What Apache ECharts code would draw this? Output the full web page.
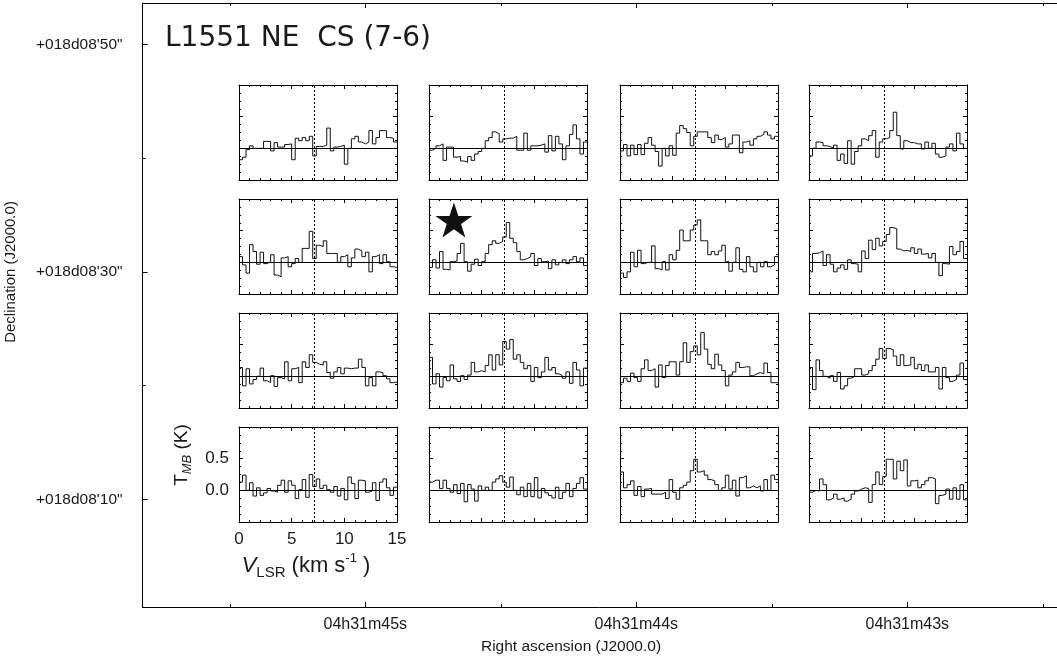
<!DOCTYPE html>
<html>
<head>
<meta charset="utf-8">
<script src="https://cdn.jsdelivr.net/npm/echarts@6/dist/echarts.min.js"></script>
<style>
  html, body { margin: 0; padding: 0; background: #fff; }
  #chart { width: 1057px; height: 660px; }
</style>
</head>
<body>
<div id="chart"></div>
<script>
// ---- data -------------------------------------------------------------
// CS (7-6) spectra: channel width (km/s), first channel edge, systemic velocity
const channelWidth = 0.3333;
const velocityStart = 0;
const systemicVelocity = 7.15;

// map frame ticks (RA seconds of 04h31m, Dec arcsec of +18d08')
const raTicks = [45, 44, 43];
const raTickLabels = ['04h31m45s', '04h31m44s', '04h31m43s'];
const raMinorTicks = [45.5, 44.5, 43.5, 42.5];
const decTicks = [50, 30, 10];
const decTickLabels = ['+018d08\'50"', '+018d08\'30"', '+018d08\'10"'];
const decMinorTicks = [40, 20];
const temperatureTicks = [0, 0.5];

// protostar position (RA s, Dec arcsec)
const starPosition = [44.673, 34.55];

// spectra, T_MB in K; rows north to south, columns east to west
const specR1C1 = [-0.18, -0.14, -0.02, 0.04, 0.00, 0.00, 0.00, 0.11, 0.11, -0.04, 0.09, 0.02, 0.02, 0.06, 0.07, -0.18, 0.16, 0.12, 0.17, 0.12, 0.19, -0.12, 0.03, 0.03, 0.05, 0.32, -0.04, 0.02, 0.03, 0.05, -0.25, 0.00, 0.15, 0.19, 0.10, 0.07, 0.10, 0.28, 0.07, 0.17, 0.28, 0.28, 0.17, 0.16, 0.10];
const specR1C2 = [-0.03, 0.00, 0.04, 0.07, -0.19, 0.02, 0.02, -0.14, -0.13, -0.20, -0.22, -0.13, -0.19, -0.09, -0.05, 0.00, 0.12, 0.17, 0.26, 0.23, 0.10, 0.15, 0.16, 0.16, 0.19, -0.03, -0.03, 0.24, -0.03, 0.04, 0.04, 0.05, 0.07, -0.06, 0.20, -0.04, 0.19, 0.07, -0.18, 0.04, 0.22, 0.37, 0.15, -0.09, 0.10];
const specR1C3 = [-0.04, 0.06, -0.12, 0.05, -0.10, 0.06, -0.10, 0.08, 0.17, 0.05, -0.05, -0.28, 0.00, -0.12, 0.04, -0.11, 0.24, 0.36, 0.31, 0.25, 0.04, 0.19, 0.26, 0.26, 0.26, 0.17, 0.09, 0.21, 0.14, 0.17, 0.02, 0.07, 0.21, 0.21, -0.07, 0.10, 0.12, 0.05, 0.15, 0.19, 0.22, 0.26, 0.21, 0.15, 0.19];
const specR1C4 = [-0.12, 0.00, 0.10, 0.09, 0.04, 0.03, 0.00, 0.05, -0.19, -0.09, -0.24, 0.12, -0.25, -0.05, 0.04, 0.15, 0.12, 0.20, 0.28, -0.14, 0.10, 0.15, 0.17, 0.28, 0.57, 0.20, -0.01, 0.12, 0.09, 0.09, 0.07, 0.07, -0.01, 0.10, 0.00, 0.08, -0.09, -0.14, -0.12, 0.02, 0.07, -0.04, 0.24, 0.07, 0.00];

const specR2C1 = [0.09, -0.04, -0.17, 0.28, 0.17, -0.03, 0.16, -0.02, 0.01, 0.12, -0.20, -0.23, 0.07, 0.09, -0.07, -0.02, 0.06, 0.00, 0.22, 0.22, 0.49, 0.06, 0.27, 0.25, 0.34, 0.14, 0.14, 0.14, 0.00, 0.09, 0.12, -0.07, 0.07, 0.21, 0.18, 0.09, 0.16, -0.15, 0.09, 0.12, -0.02, 0.12, 0.01, -0.07, -0.08];
const specR2C2 = [-0.08, 0.04, -0.09, 0.17, -0.11, -0.12, 0.01, 0.02, 0.14, 0.30, 0.01, -0.14, -0.03, 0.05, -0.05, 0.01, 0.14, 0.28, 0.34, 0.30, 0.33, 0.40, 0.63, 0.38, 0.31, 0.17, 0.04, 0.06, 0.09, 0.14, -0.05, 0.06, 0.01, 0.02, -0.10, 0.04, -0.04, 0.00, 0.04, -0.02, 0.04, 0.09, 0.01, 0.07, -0.05];
const specR2C3 = [-0.17, -0.24, -0.15, 0.16, -0.07, 0.19, -0.02, 0.00, 0.00, 0.26, -0.10, -0.12, 0.01, -0.12, 0.12, 0.04, 0.19, 0.51, 0.34, 0.34, 0.51, 0.59, 0.67, 0.34, 0.34, 0.12, 0.17, 0.12, 0.18, 0.27, 0.01, -0.14, 0.00, 0.23, -0.11, -0.15, 0.09, -0.07, -0.15, 0.00, -0.07, 0.01, -0.07, -0.04, 0.09];
const specR2C4 = [-0.15, 0.14, 0.15, 0.18, -0.05, 0.12, -0.03, -0.15, -0.09, -0.04, -0.11, 0.04, -0.02, -0.03, -0.15, 0.18, 0.06, 0.35, 0.20, 0.38, 0.26, 0.33, 0.44, 0.55, 0.53, 0.21, 0.18, 0.19, 0.17, 0.23, 0.14, 0.21, 0.13, 0.14, 0.07, 0.14, 0.00, -0.21, -0.02, -0.03, 0.25, 0.12, 0.17, 0.33, 0.06];

const specR3C1 = [0.14, -0.15, 0.12, -0.12, -0.05, 0.00, 0.13, -0.07, -0.10, 0.01, -0.16, -0.02, -0.04, 0.23, -0.07, 0.12, 0.14, -0.10, 0.23, 0.14, 0.34, 0.22, 0.19, 0.18, 0.23, 0.06, -0.03, 0.07, 0.14, 0.04, 0.13, 0.12, 0.13, 0.13, 0.27, 0.14, -0.15, -0.02, -0.15, 0.07, 0.06, 0.01, -0.04, -0.10, -0.09];
const specR3C2 = [0.30, -0.12, 0.04, -0.17, -0.02, -0.07, 0.18, -0.04, -0.08, 0.01, -0.05, 0.02, 0.22, 0.07, 0.09, 0.07, 0.17, 0.34, 0.10, 0.34, 0.18, 0.55, 0.43, 0.58, 0.27, 0.34, 0.22, 0.12, 0.17, -0.08, 0.14, -0.02, 0.07, 0.30, 0.10, 0.14, 0.04, 0.01, -0.03, 0.07, -0.11, 0.22, 0.10, -0.15, 0.13];
const specR3C3 = [-0.10, -0.03, -0.08, 0.05, -0.02, -0.08, 0.12, 0.26, 0.09, 0.12, -0.17, 0.18, -0.02, 0.17, 0.23, 0.23, 0.02, 0.23, 0.53, 0.22, 0.39, 0.48, 0.34, 0.69, 0.43, 0.19, 0.12, 0.35, 0.18, 0.09, -0.15, 0.02, 0.07, 0.22, 0.14, 0.15, 0.15, 0.01, 0.04, 0.06, 0.04, 0.21, 0.06, -0.10, -0.10];
const specR3C4 = [0.14, -0.21, 0.26, 0.09, 0.00, -0.03, 0.01, -0.08, 0.06, -0.20, -0.15, -0.03, 0.00, 0.12, 0.12, 0.02, 0.04, 0.09, 0.17, 0.27, 0.44, 0.28, 0.44, 0.42, 0.32, 0.17, 0.34, 0.17, 0.18, 0.30, 0.12, 0.19, 0.09, 0.18, 0.07, 0.07, 0.14, -0.20, 0.14, -0.02, -0.08, -0.05, 0.02, 0.21, -0.05];

const specR4C1 = [0.13, 0.24, 0.00, 0.12, -0.09, 0.04, -0.08, -0.04, 0.03, -0.01, -0.03, 0.08, 0.16, -0.03, 0.15, 0.08, -0.13, 0.01, 0.17, -0.11, 0.25, 0.06, 0.18, 0.03, 0.08, 0.01, -0.03, 0.06, -0.09, 0.03, -0.15, 0.21, 0.11, -0.13, 0.16, 0.15, -0.03, -0.01, 0.12, -0.16, 0.13, 0.18, 0.04, -0.08, 0.05];
const specR4C2 = [0.13, 0.16, 0.16, 0.03, 0.16, 0.03, -0.03, 0.09, -0.05, 0.11, -0.18, 0.09, 0.02, -0.17, 0.07, 0.00, 0.05, 0.00, 0.13, 0.18, 0.23, 0.13, 0.05, 0.21, 0.00, -0.07, 0.05, -0.10, 0.11, -0.10, 0.20, -0.12, 0.03, -0.04, -0.08, -0.12, 0.05, -0.13, -0.03, 0.11, -0.10, 0.03, 0.11, 0.20, 0.02];
const specR4C3 = [0.29, 0.04, 0.09, 0.15, -0.08, 0.06, -0.10, 0.02, 0.03, -0.06, -0.06, -0.06, -0.03, -0.13, 0.17, -0.03, -0.14, 0.04, 0.08, 0.13, 0.31, 0.49, 0.29, 0.31, 0.24, 0.17, 0.15, 0.09, 0.00, 0.04, 0.24, 0.02, 0.16, -0.09, 0.20, 0.23, 0.04, 0.07, 0.04, 0.07, -0.01, 0.17, 0.00, 0.24, 0.17];
const specR4C4 = [-0.03, 0.00, -0.01, 0.18, 0.09, -0.15, -0.12, -0.06, -0.14, -0.12, -0.17, -0.14, -0.06, -0.01, 0.02, 0.04, 0.03, -0.19, 0.09, 0.29, 0.09, 0.22, 0.49, 0.49, 0.18, 0.46, 0.31, 0.48, 0.07, 0.15, 0.16, 0.04, 0.09, 0.15, 0.20, 0.18, -0.21, -0.08, -0.06, 0.02, -0.14, 0.04, -0.14, 0.09, -0.15];

const spectra = [
  [specR1C1, specR1C2, specR1C3, specR1C4],
  [specR2C1, specR2C2, specR2C3, specR2C4],
  [specR3C1, specR3C2, specR3C3, specR3C4],
  [specR4C1, specR4C2, specR4C3, specR4C4]
];

// ---- layout -----------------------------------------------------------
const frame = { left: 142.5, top: 3, right: 0, bottom: 53 };
const raExtent = [42.4476, 45.8221];
const decExtent = [0.53, 53.63];
const panelLefts = [239, 429, 620, 809];
const panelTops = [85, 199, 313, 427];
const panelWidth = 158;
const panelHeight = 95;

const ink = '#000';
const textColor = '#1a1a1a';
const sans = 'Liberation Sans, Arial, sans-serif';

const chart = echarts.init(document.getElementById('chart'), null, { renderer: 'canvas' });

const grids = [{
  left: frame.left, top: frame.top, right: frame.right, bottom: frame.bottom,
  containLabel: false, outerBoundsMode: 'none'
}];
const xAxes = [];
const yAxes = [];
const series = [];

const lineOf = (show) => ({ show: show, onZero: false, lineStyle: { color: ink, width: 1 } });

// map frame: RA along the bottom/top, Dec along the left
function raAxis(position, ticks, len, withLabels, withLine) {
  return {
    gridIndex: 0, type: 'value', inverse: true, position: position,
    min: raExtent[0], max: raExtent[1],
    axisLine: lineOf(withLine),
    splitLine: { show: false },
    axisTick: { show: true, inside: true, length: len, customValues: ticks, lineStyle: { color: ink, width: 1 } },
    axisLabel: withLabels ? {
      show: true, customValues: raTicks, margin: 10,
      formatter: (v) => raTickLabels[raTicks.indexOf(v)],
      fontSize: 16, fontFamily: sans, color: textColor
    } : { show: false }
  };
}
xAxes.push(raAxis('bottom', raTicks, 5, true, true));
xAxes.push(raAxis('bottom', raMinorTicks, 3, false, false));
xAxes.push(raAxis('top', raTicks, 5, false, true));
xAxes.push(raAxis('top', raMinorTicks, 3, false, false));

function decAxis(ticks, len, withLabels, withLine) {
  return {
    gridIndex: 0, type: 'value', position: 'left',
    min: decExtent[0], max: decExtent[1],
    axisLine: lineOf(withLine),
    splitLine: { show: false },
    axisTick: { show: true, inside: true, length: len, customValues: ticks, lineStyle: { color: ink, width: 1 } },
    axisLabel: withLabels ? {
      show: true, customValues: decTicks, margin: 20,
      formatter: (v) => decTickLabels[decTicks.indexOf(v)],
      fontSize: 15.5, fontFamily: sans, color: textColor
    } : { show: false }
  };
}
yAxes.push(decAxis(decTicks, 5, true, true));
yAxes.push(decAxis(decMinorTicks, 3, false, false));

// protostar marker
series.push({
  type: 'scatter', xAxisIndex: 0, yAxisIndex: 0,
  data: [starPosition],
  symbol: 'path://M50,0 L61.8,35.1 L98.9,35.1 L68.9,56.7 L80.3,91.9 L50,70.2 L19.7,91.9 L31.1,56.7 L1.1,35.1 L38.2,35.1 Z',
  symbolSize: [37, 35],
  itemStyle: { color: '#111', opacity: 1 },
  silent: true, z: 5
});

// one small spectrum panel per map position
spectra.forEach((row, r) => {
  row.forEach((values, c) => {
    const g = grids.length;
    grids.push({
      left: panelLefts[c], top: panelTops[r], width: panelWidth, height: panelHeight,
      containLabel: false, outerBoundsMode: 'none'
    });
    const labelled = (r === 3 && c === 0);

    const velAxis = (position, showLabel) => ({
      gridIndex: g, type: 'value', position: position,
      min: 0, max: 15, interval: 5,
      axisLine: lineOf(true),
      splitLine: { show: false },
      axisTick: { show: true, inside: true, length: 4, lineStyle: { color: ink, width: 1 } },
      minorTick: { show: true, splitNumber: 5, length: 2, lineStyle: { color: ink, width: 1 } },
      axisLabel: { show: showLabel, margin: 9, fontSize: 17, fontFamily: sans, color: textColor }
    });
    const tempAxis = (position, showLabel) => ({
      gridIndex: g, type: 'value', position: position,
      min: -0.5, max: 1.0, interval: 0.5,
      axisLine: lineOf(true),
      splitLine: { show: false },
      axisTick: { show: true, inside: true, length: 4, lineStyle: { color: ink, width: 1 } },
      minorTick: { show: true, splitNumber: 4, length: 2, lineStyle: { color: ink, width: 1 } },
      axisLabel: showLabel ? {
        show: true, customValues: temperatureTicks, margin: 10,
        formatter: (v) => v.toFixed(1),
        fontSize: 17, fontFamily: sans, color: textColor
      } : { show: false }
    });

    const xi = xAxes.length;
    xAxes.push(velAxis('bottom', labelled));
    xAxes.push(velAxis('top', false));
    const yi = yAxes.length;
    yAxes.push(tempAxis('left', labelled));
    yAxes.push(tempAxis('right', false));

    // channel edges; the last channel is closed at its upper edge
    const points = values.map((t, i) => [velocityStart + i * channelWidth, t]);
    points.push([velocityStart + values.length * channelWidth, values[values.length - 1]]);

    series.push({
      type: 'line', xAxisIndex: xi, yAxisIndex: yi,
      data: points, step: 'end', symbol: 'none', silent: true,
      lineStyle: { color: '#111', width: 1 },
      markLine: {
        silent: true, symbol: ['none', 'none'], label: { show: false },
        data: [
          { yAxis: 0, lineStyle: { type: 'solid', color: ink, width: 1 } },
          { xAxis: systemicVelocity, lineStyle: { type: [2, 2], color: ink, width: 1 } }
        ]
      }
    });
  });
});

const option = {
  backgroundColor: '#fff',
  animation: false,
  grid: grids,
  xAxis: xAxes,
  yAxis: yAxes,
  series: series,
  graphic: [
    {
      type: 'text', x: 165, y: 39,
      style: {
        text: 'L1551 NE  CS (7-6)', fontSize: 28, fontFamily: 'DejaVu Sans, sans-serif',
        fontWeight: 'normal', fill: textColor, verticalAlign: 'middle', align: 'left'
      }
    },
    {
      type: 'text', x: 182, y: 455, rotation: Math.PI / 2,
      style: {
        text: '{t|T}{s|MB}{t| (K)}', align: 'center', verticalAlign: 'middle', fill: textColor,
        rich: {
          t: { fontSize: 19, fontFamily: sans, lineHeight: 24, fill: textColor },
          s: { fontSize: 13, fontFamily: sans, fontStyle: 'italic', lineHeight: 11, verticalAlign: 'bottom', fill: textColor }
        }
      }
    },
    {
      type: 'text', x: 306, y: 566,
      style: {
        text: '{v|V}{s|LSR}{t| (km s}{p|-1}{t| )}', align: 'center', verticalAlign: 'middle', fill: textColor,
        rich: {
          v: { fontSize: 22, fontFamily: sans, fontStyle: 'italic', lineHeight: 28, fill: textColor },
          t: { fontSize: 22, fontFamily: sans, lineHeight: 28, fill: textColor },
          s: { fontSize: 15, fontFamily: sans, lineHeight: 12, verticalAlign: 'bottom', fill: textColor },
          p: { fontSize: 13, fontFamily: sans, lineHeight: 13, verticalAlign: 'top', fill: textColor }
        }
      }
    },
    {
      type: 'text', x: 571, y: 647,
      style: {
        text: 'Right ascension (J2000.0)', fontSize: 15.5, fontFamily: sans,
        fill: textColor, align: 'center', verticalAlign: 'middle'
      }
    },
    {
      type: 'text', x: 11, y: 272, rotation: Math.PI / 2,
      style: {
        text: 'Declination (J2000.0)', fontSize: 15, fontFamily: sans,
        fill: textColor, align: 'center', verticalAlign: 'middle'
      }
    }
  ]
};

chart.setOption(option);
</script>
</body>
</html>
